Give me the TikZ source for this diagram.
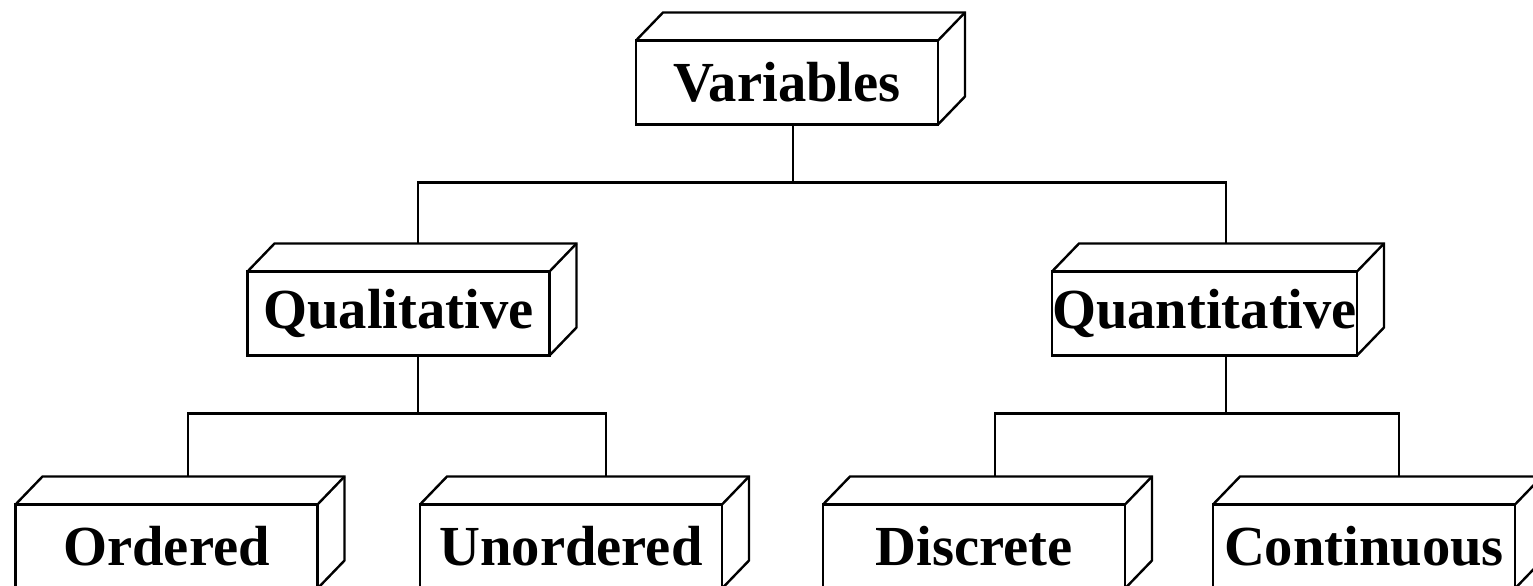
\documentclass[tikz,border=0pt]{standalone}
\usepackage{fontspec}
\setmainfont{Liberation Serif}
\begin{document}
\begin{tikzpicture}[x=0.5pt,y=-0.5pt,line width=1.2pt,
  crate/.style={draw,inner sep=0pt,outer sep=0pt,minimum width=151pt,minimum height=42pt,font=\fontsize{28.3}{30}\selectfont\bfseries}]
\useasboundingbox (0,0) rectangle (1533,585);
% boxes, front faces
\node [crate] (var) at (787,82.5) {Variables};
\node [crate] (qual) at (398.5,313.5) {Qualitative};
\node [crate] (quan) at (1204.5,313.5) {Quantitative};
\node [crate] (ord) at (166.5,546.5) {Ordered};
\node [crate] (unord) at (571,546.5) {Unordered};
\node [crate] (disc) at (974,546.5) {Discrete};
\node [crate] (cont) at (1364,546.5) {Continuous};
% depth of the boxes
\foreach \n in {var,qual,quan,ord,unord,disc,cont}{
  \draw (\n.north west) -- ++(13.5pt,14pt) -| ([shift={(13.5pt,14pt)}]\n.south east) -- (\n.south east); \draw (\n.north east) -- ++(13.5pt,14pt);
}
% connectors
\draw ([xshift=3pt]var.south) -- ++(0,58) coordinate (vbus);
\draw ([xshift=9.75pt,yshift=14pt]qual.north) |- (vbus) -| ([xshift=10.75pt,yshift=14pt]quan.north);
\draw ([xshift=9.75pt]qual.south) -- ++(0,58) coordinate (qbus);
\draw ([xshift=10.75pt,yshift=14pt]ord.north) |- (qbus) -| ([xshift=17.5pt,yshift=14pt]unord.north);
\draw ([xshift=10.75pt]quan.south) -- ++(0,58) coordinate (nbus);
\draw ([xshift=10.5pt,yshift=14pt]disc.north) |- (nbus) -| ([xshift=17.5pt,yshift=14pt]cont.north);
\end{tikzpicture}
\end{document}
